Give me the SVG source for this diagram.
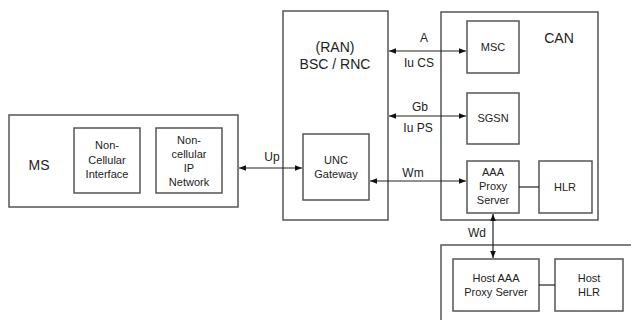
<svg xmlns="http://www.w3.org/2000/svg" width="631" height="320" viewBox="0 0 631 320">
<defs>
<style>
.b{fill:#fff;stroke:#555;stroke-width:1.5}
.l{stroke:#222;stroke-width:1.2;fill:none}
.t{font-family:"Liberation Sans",Arial,sans-serif;fill:#222;text-anchor:middle}
.s{font-size:11px}
.m{font-size:12px}
.g{font-size:14px}
</style>
<marker id="ar" viewBox="0 0 10 10" refX="10" refY="5" markerWidth="7" markerHeight="7" orient="auto-start-reverse" markerUnits="userSpaceOnUse"><path d="M0,1 L10,5 L0,9 z" fill="#111"/></marker>
</defs>
<rect width="631" height="320" fill="#fff"/>
<g id="ms">
<rect class="b" x="9" y="115" width="229" height="92"/>
<text class="t g" x="39" y="170">MS</text>
</g>
<g id="nci">
<rect class="b" x="74" y="128" width="66" height="65"/>
<text class="t s" x="107" y="149">Non-</text>
<text class="t s" x="107" y="164">Cellular</text>
<text class="t s" x="107" y="178">Interface</text>
</g>
<g id="ncip">
<rect class="b" x="156" y="128" width="66" height="65"/>
<text class="t s" x="189" y="144">Non-</text>
<text class="t s" x="189" y="158">cellular</text>
<text class="t s" x="189" y="172">IP</text>
<text class="t s" x="189" y="186">Network</text>
</g>
<g id="ran">
<rect class="b" x="283" y="11" width="105" height="209"/>
<text class="t g" x="335" y="52">(RAN)</text>
<text class="t g" x="335" y="69">BSC / RNC</text>
</g>
<g id="unc">
<rect class="b" x="303" y="134" width="66" height="66"/>
<text class="t s" x="336" y="164">UNC</text>
<text class="t s" x="336" y="178">Gateway</text>
</g>
<g id="can">
<rect class="b" x="441" y="12" width="157" height="208"/>
<text class="t g" x="559" y="43">CAN</text>
</g>
<g id="msc">
<rect class="b" x="467" y="21" width="52" height="52"/>
<text class="t s" x="493" y="51">MSC</text>
</g>
<g id="sgsn">
<rect class="b" x="467" y="93" width="52" height="51"/>
<text class="t s" x="493" y="122">SGSN</text>
</g>
<g id="aaa">
<rect class="b" x="467" y="161" width="52" height="52"/>
<text class="t s" x="493" y="176">AAA</text>
<text class="t s" x="493" y="190">Proxy</text>
<text class="t s" x="493" y="204">Server</text>
</g>
<g id="hlr">
<rect class="b" x="539" y="161" width="53" height="52"/>
<text class="t s" x="565" y="191">HLR</text>
</g>
<g id="host">
<rect class="b" x="441" y="245" width="200" height="90"/>
</g>
<g id="hostaaa">
<rect class="b" x="453" y="259" width="86" height="52"/>
<text class="t s" x="496" y="282">Host AAA</text>
<text class="t s" x="496" y="296">Proxy Server</text>
</g>
<g id="hosthlr">
<rect class="b" x="555" y="259" width="68" height="52"/>
<text class="t s" x="589" y="282">Host</text>
<text class="t s" x="589" y="296">HLR</text>
</g>
<g id="connectors">
<line class="l" x1="239" y1="168" x2="302" y2="168" marker-start="url(#ar)" marker-end="url(#ar)"/>
<line class="l" x1="389" y1="51" x2="466" y2="51" marker-start="url(#ar)" marker-end="url(#ar)"/>
<line class="l" x1="389" y1="116" x2="466" y2="116" marker-start="url(#ar)" marker-end="url(#ar)"/>
<line class="l" x1="370" y1="181" x2="466" y2="181" marker-start="url(#ar)" marker-end="url(#ar)"/>
<line class="l" x1="493" y1="214" x2="493" y2="258" marker-start="url(#ar)" marker-end="url(#ar)"/>
<line class="l" x1="519" y1="187" x2="539" y2="187"/>
<line class="l" x1="539" y1="285" x2="555" y2="285"/>
<text class="t m" x="272" y="161">Up</text>
<text class="t m" x="424" y="42">A</text>
<text class="t m" x="419" y="67">Iu CS</text>
<text class="t m" x="420" y="111">Gb</text>
<text class="t m" x="418" y="132">Iu PS</text>
<text class="t m" x="413" y="177">Wm</text>
<text class="t m" x="477" y="237">Wd</text>
</g>
</svg>
